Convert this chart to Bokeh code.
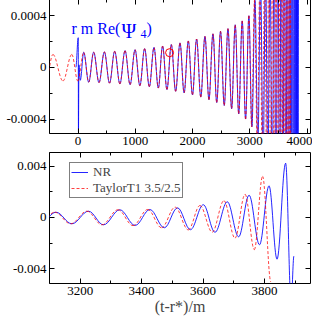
import numpy as np
from bokeh.plotting import figure
from bokeh.models import (ColumnDataSource, Range1d, LinearAxis, FixedTicker, Label,
                          PrintfTickFormatter, CustomJSTickFormatter)
from bokeh.layouts import column
from bokeh.embed import file_html
from bokeh.resources import INLINE

# ---------------- data (extrema) ----------------
# top panel, NR waveform: successive turning points (t, value)
nr_top_t = [-40, 2, 6, 14, 38,
            98, 185, 272, 365, 459, 549, 639, 730, 820, 908, 995, 1079, 1162, 1244,
            1326, 1401, 1476, 1552, 1628, 1704, 1780, 1852, 1925, 1998, 2070, 2143,
            2216, 2286, 2356, 2422, 2488, 2553, 2618, 2682, 2745, 2806, 2867, 2926,
            2984, 3037, 3090, 3140, 3188, 3232, 3275, 3315, 3352, 3390, 3425, 3458,
            3490, 3520, 3550, 3578, 3605, 3630, 3655, 3678, 3700, 3720, 3740, 3758,
            3775, 3790, 3800, 3810, 3818, 3826, 3834, 3842, 3850]
nr_top_v = [0.0, 0.00023, -0.0005, 0.00002, -0.0001,
            0.000117, -0.000115, 0.000118, -0.000118, 0.00012, -0.000122, 0.000125,
            -0.000128, 0.00013, -0.000134, 0.000137, -0.000142, 0.000145, -0.00015,
            0.000155, -0.00016, 0.000165, -0.000172, 0.000177, -0.000185, 0.00019,
            -0.000198, 0.000205, -0.000213, 0.00022, -0.00023, 0.00024, -0.00025,
            0.00026, -0.000272, 0.00028, -0.000295, 0.0003, -0.00032, 0.00033,
            -0.00036, 0.00036, -0.0004, 0.0004, -0.00046, 0.00052, -0.0006, 0.00066,
            -0.00075, 0.0008, -0.0009, 0.00095, -0.0011, 0.0011, -0.0012, 0.0013,
            -0.0014, 0.0015, -0.0017, 0.0018, -0.002, 0.0022, -0.0025, 0.0028,
            -0.003, 0.0035, -0.004, 0.0042, -0.005, 0.004, -0.003, 0.0025, -0.002,
            0.0015, -0.001, 0.0006]
# top panel, TaylorT1: early part, shared inspiral part, late part
t1_pre_t = [-560, -440, -265, -110, -5]
t1_pre_v = [-0.0001, 0.0001, -0.000105, 0.0001, -0.000105]
t1_late_t = [3032, 3082, 3130, 3175, 3218, 3258, 3296, 3332, 3366, 3398, 3428,
             3457, 3484, 3510, 3535, 3558, 3580, 3601, 3621, 3640, 3658, 3675,
             3691, 3706, 3720]
t1_late_v = [-0.00046, 0.00052, -0.0006, 0.00066, -0.00075, 0.0008, -0.0009,
             0.00095, -0.0011, 0.0011, -0.0012, 0.0013, -0.0014, 0.0015, -0.0017,
             0.0018, -0.002, 0.0022, -0.0025, 0.0028, -0.003, 0.0035, -0.004,
             0.0042, -0.005]
t1_top_t = t1_pre_t + nr_top_t[5:44] + t1_late_t
t1_top_v = t1_pre_v + nr_top_v[5:44] + t1_late_v

# marker on the top panel
circ_t = [1598]
circ_v = [0.000114]

# bottom panel (zoom on the merger)
nr_bot_t = [3072, 3121, 3173, 3227, 3276, 3329, 3379, 3427, 3474, 3517, 3559, 3601,
            3639, 3679, 3716, 3750, 3784, 3815, 3841, 3869, 3887, 3896]
nr_bot_v = [-0.00045, 0.00041, -0.00049, 0.00049, -0.00057, 0.0006, -0.00062,
            0.00062, -0.0008, 0.00075, -0.00095, 0.00099, -0.00115, 0.00122,
            -0.0015, 0.00173, -0.00212, 0.00246, -0.00324, 0.00422, -0.0066, -0.003]
t1_bot_t = [3068, 3117, 3169, 3222, 3271, 3323, 3372, 3420, 3465, 3509, 3552, 3590,
            3630, 3668, 3704, 3737, 3767, 3794, 3821]
t1_bot_v = [-0.00045, 0.00041, -0.00049, 0.00049, -0.00057, 0.0006, -0.00063,
            0.00062, -0.0008, 0.0008, -0.00096, 0.00093, -0.00114, 0.0013, -0.0016,
            0.0018, -0.0025, 0.0032, -0.005]

top_xticks = [0, 1000, 2000, 3000, 4000]
top_xminor = [-500, 500, 1500, 2500, 3500]
top_yticks = [-0.0004, 0.0, 0.0004]
top_yminor = [-0.0002, 0.0002]
bot_xticks = [3200, 3400, 3600, 3800]
bot_xminor = [3100, 3300, 3500, 3700, 3900]
bot_yticks = [-0.004, 0.0, 0.004]
bot_yminor = [-0.002, 0.002]

legend_labels = ["NR", "TaylorT1 3.5/2.5"]
x_label = "(t-r*)/m"

# ---------------- drawing ----------------
FONT = "Liberation Serif"
BLUE = "#0000ff"
RED = "#ff0000"
K = 0.3642  # cubic approximation of a half cosine between turning points


def half_cycles(ts, vs):
    t = np.asarray(ts, float)
    v = np.asarray(vs, float)
    d = (t[1:] - t[:-1]) * K
    return ColumnDataSource(dict(x0=t[:-1], y0=v[:-1], x1=t[1:], y1=v[1:],
                                 cx0=t[:-1] + d, cy0=v[:-1], cx1=t[1:] - d, cy1=v[1:]))


def style(p, xt, xm, yt, ym, yfmt):
    p.grid.visible = False
    p.outline_line_color = "black"
    p.outline_line_width = 1
    p.background_fill_color = "white"
    p.border_fill_color = "white"
    xa = p.below[0]
    ya = p.left[0]
    xa.ticker = FixedTicker(ticks=xt, minor_ticks=xm)
    ya.ticker = FixedTicker(ticks=yt, minor_ticks=ym)
    ya.formatter = PrintfTickFormatter(format=yfmt)
    for ax in (xa, ya):
        ax.axis_line_color = None
        ax.major_tick_in = 5
        ax.major_tick_out = 0
        ax.minor_tick_in = 3
        ax.minor_tick_out = 0
        ax.major_label_text_font = FONT
        ax.major_label_text_font_size = "13px"
        ax.major_label_text_color = "black"
        ax.major_label_standoff = 3
    # mirrored tick marks on the right and top edges (no labels)
    for loc, t, m in (("right", yt, ym), ("above", xt, xm)):
        ax = LinearAxis(ticker=FixedTicker(ticks=t, minor_ticks=m),
                        formatter=CustomJSTickFormatter(code="return ''"),
                        major_label_text_font_size="1px", major_label_standoff=0,
                        axis_line_color=None, major_tick_in=5, major_tick_out=0,
                        minor_tick_in=3, minor_tick_out=0)
        p.add_layout(ax, loc)
    return xa


p1 = figure(width=312, height=153, x_range=Range1d(-500, 4060),
            y_range=Range1d(-0.000512, 0.000526), output_backend="svg",
            toolbar_location=None, min_border_left=49, min_border_right=2,
            min_border_top=0, min_border_bottom=19)
style(p1, top_xticks, top_xminor, top_yticks, top_yminor, "%g")
p1.bezier(x0="x0", y0="y0", x1="x1", y1="y1", cx0="cx0", cy0="cy0", cx1="cx1",
          cy1="cy1", source=half_cycles(nr_top_t, nr_top_v), line_color=BLUE,
          line_width=1, line_alpha=0.85)
p1.bezier(x0="x0", y0="y0", x1="x1", y1="y1", cx0="cx0", cy0="cy0", cx1="cx1",
          cy1="cy1", source=half_cycles(t1_top_t, t1_top_v), line_color=RED,
          line_width=1, line_dash="3 2", line_alpha=0.75)
p1.scatter(circ_t, circ_v, marker="circle", size=8, fill_color=None,
           line_color=RED, line_width=1)

for txt, xo, yo, fs in (("r m Re(", 22, 105, "16px"), ("\u03a8", 72, 103, "20px"),
                        ("4", 91, 100, "12px"), (")", 97, 105, "16px")):
    p1.add_layout(Label(x=xo, y=yo, x_units="screen", y_units="screen", text=txt,
                        text_font=FONT, text_font_size=fs, text_color=BLUE,
                        text_baseline="alphabetic"))

p2 = figure(width=312, height=166, x_range=Range1d(3100, 3950),
            y_range=Range1d(-0.00513, 0.00505), output_backend="svg",
            toolbar_location=None, min_border_left=49, min_border_right=2,
            min_border_top=0, min_border_bottom=35)
xa2 = style(p2, bot_xticks, bot_xminor, bot_yticks, bot_yminor, "%g")
p2.bezier(x0="x0", y0="y0", x1="x1", y1="y1", cx0="cx0", cy0="cy0", cx1="cx1",
          cy1="cy1", source=half_cycles(nr_bot_t, nr_bot_v), line_color=BLUE,
          line_width=1, line_alpha=0.85, legend_label=legend_labels[0])
p2.bezier(x0="x0", y0="y0", x1="x1", y1="y1", cx0="cx0", cy0="cy0", cx1="cx1",
          cy1="cy1", source=half_cycles(t1_bot_t, t1_bot_v), line_color=RED,
          line_width=1, line_dash="3 2", line_alpha=0.75,
          legend_label=legend_labels[1])
xa2.axis_label = x_label
xa2.axis_label_text_font = FONT
xa2.axis_label_text_font_style = "normal"
xa2.axis_label_text_font_size = "16px"
xa2.axis_label_standoff = 0

lg = p2.legend[0]
lg.location = (20, 85)
lg.margin = 0
lg.padding = 1
lg.spacing = 0
lg.label_text_font = FONT
lg.label_text_font_size = "13px"
lg.label_height = 10
lg.glyph_height = 10
lg.glyph_width = 17
lg.label_standoff = 5
lg.border_line_color = "black"
lg.border_line_width = 1
lg.background_fill_alpha = 1

layout = column(p1, p2, spacing=0,
                styles={"position": "absolute", "top": "-1px", "left": "0px"})

open("out.html", "w").write(file_html(layout, INLINE))
